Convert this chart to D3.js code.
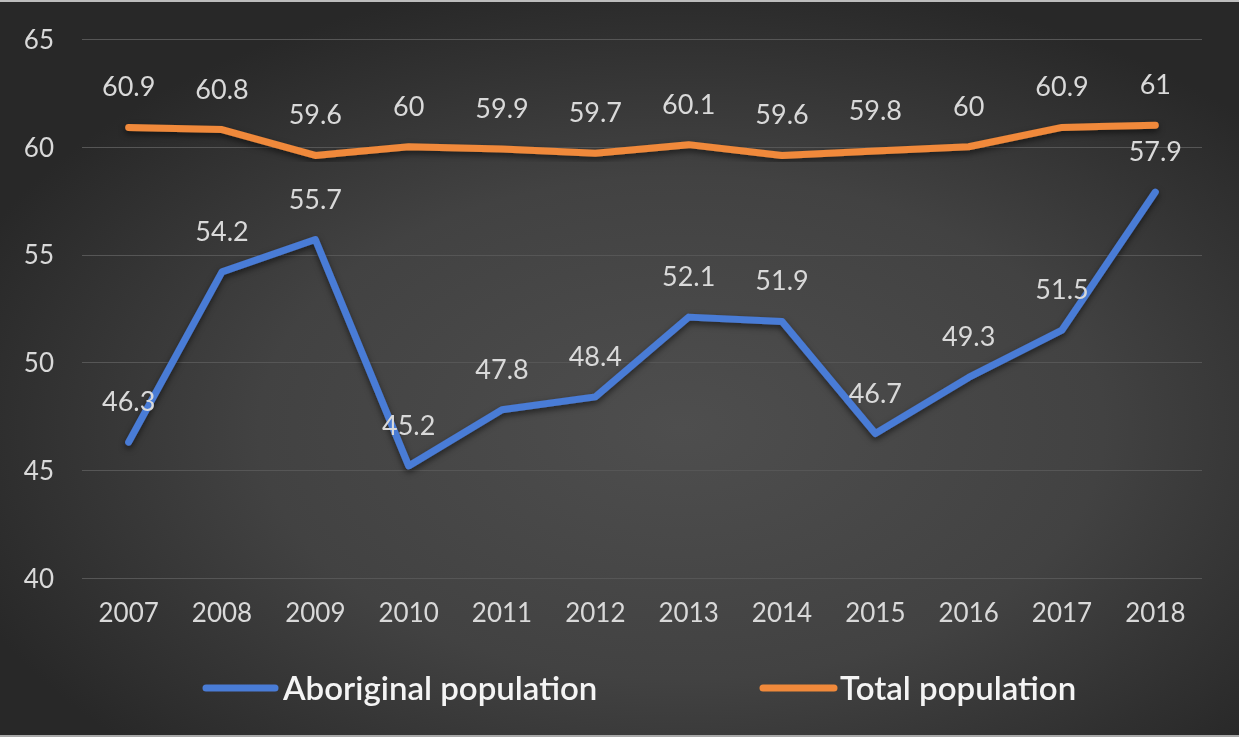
<!DOCTYPE html>
<html>
<head>
<meta charset="utf-8">
<script src="https://cdn.jsdelivr.net/npm/d3@7"></script>
<style>
  html, body { margin: 0; padding: 0; background: #2e2e2e; }
  svg { display: block; }
</style>
</head>
<body>
<svg id="chart" width="1239" height="737"></svg>
<script>
// Life-expectancy style comparison, 2007–2018
const years = ["2007","2008","2009","2010","2011","2012","2013","2014","2015","2016","2017","2018"];
const aboriginal = [46.3, 54.2, 55.7, 45.2, 47.8, 48.4, 52.1, 51.9, 46.7, 49.3, 51.5, 57.9];
const total = [60.9, 60.8, 59.6, 60, 59.9, 59.7, 60.1, 59.6, 59.8, 60, 60.9, 61];
const yTicks = [40, 45, 50, 55, 60, 65];
const seriesNames = ["Aboriginal population", "Total population"];
const seriesColors = ["#4a7bd6", "#f0893a"];

const W = 1239, H = 737;
const svg = d3.select("#chart");
const defs = svg.append("defs");

// background: dark radial fill, lighter toward the middle
const bg = defs.append("radialGradient").attr("id", "bg")
  .attr("cx", "55%").attr("cy", "58%").attr("r", "62%");
bg.append("stop").attr("offset", "0%").attr("stop-color", "#4e4e4e");
bg.append("stop").attr("offset", "55%").attr("stop-color", "#424242");
bg.append("stop").attr("offset", "100%").attr("stop-color", "#282828");

// soft dark shadow under the lines
const sh = defs.append("filter").attr("id", "shadow")
  .attr("x", "-5%").attr("y", "-20%").attr("width", "110%").attr("height", "140%");
sh.append("feDropShadow").attr("dx", 0).attr("dy", 3).attr("stdDeviation", 3)
  .attr("flood-color", "#000").attr("flood-opacity", 0.55);

const soft = defs.append("filter").attr("id", "soft");
soft.append("feGaussianBlur").attr("stdDeviation", 0.4);

svg.append("rect").attr("width", W).attr("height", H).attr("fill", "url(#bg)");
svg.append("rect").attr("x", 0).attr("y", 0).attr("width", W).attr("height", 2).attr("fill", "#bdbdbd");
svg.append("rect").attr("x", 0).attr("y", H - 2).attr("width", W).attr("height", 2).attr("fill", "#a8a8a8");

const x = d3.scaleBand().domain(years).range([82, 1202]);
const cx = d => x(d) + x.bandwidth() / 2;
const y = d3.scaleLinear().domain([40, 65]).range([578, 39]);

const font = "Lato, 'Open Sans', sans-serif";
const g = svg.append("g").attr("filter", "url(#soft)");

// gridlines
g.append("g").selectAll("line").data(yTicks).join("line")
  .attr("x1", 82).attr("x2", 1202)
  .attr("y1", d => Math.round(y(d)) + 0.5).attr("y2", d => Math.round(y(d)) + 0.5)
  .attr("stroke", "#575757").attr("stroke-width", 1.2);

// y axis labels
const yAxis = g.append("g").attr("transform", "translate(54,0)")
  .call(d3.axisLeft(y).tickValues(yTicks).tickSize(0).tickPadding(0));
yAxis.select(".domain").remove();
yAxis.selectAll("text").attr("fill", "#d9d9d9").attr("font-size", 26)
  .attr("font-family", font).attr("dy", "0.36em");

// x axis labels
const xAxis = g.append("g").attr("transform", "translate(0,604)")
  .call(d3.axisBottom(x).tickSize(0).tickPadding(0));
xAxis.select(".domain").remove();
xAxis.selectAll("text").attr("fill", "#d9d9d9").attr("font-size", 26)
  .attr("font-family", font).attr("dy", "0.7em");

// lines
const line = d3.line().x((d, i) => cx(years[i])).y(d => y(d));
[aboriginal, total].forEach((vals, k) => {
  g.append("path").datum(vals)
    .attr("d", line)
    .attr("fill", "none")
    .attr("stroke", seriesColors[k])
    .attr("stroke-width", 7)
    .attr("stroke-linejoin", "round")
    .attr("stroke-linecap", "round")
    .attr("filter", "url(#shadow)");
});

// value labels above each point
[aboriginal, total].forEach((vals, k) => {
  g.append("g").selectAll("text").data(vals).join("text")
    .attr("x", (d, i) => cx(years[i]))
    .attr("y", d => y(d) - 31)
    .attr("text-anchor", "middle")
    .attr("fill", "#d9d9d9")
    .attr("font-size", 27)
    .attr("font-family", font)
    .text(d => d);
});

// legend
const legendY = 688;
const legendItems = [
  { x1: 206, x2: 275, tx: 283 },
  { x1: 763, x2: 834, tx: 840 }
];
legendItems.forEach((it, k) => {
  g.append("line")
    .attr("x1", it.x1).attr("x2", it.x2)
    .attr("y1", legendY).attr("y2", legendY)
    .attr("stroke", seriesColors[k]).attr("stroke-width", 7)
    .attr("stroke-linecap", "round");
  g.append("text")
    .attr("x", it.tx).attr("y", legendY).attr("dy", "0.36em")
    .attr("fill", "#f4f4f4").attr("font-size", 33).attr("font-weight", 600)
    .attr("font-family", font)
    .text(seriesNames[k]);
});
</script>
</body>
</html>
